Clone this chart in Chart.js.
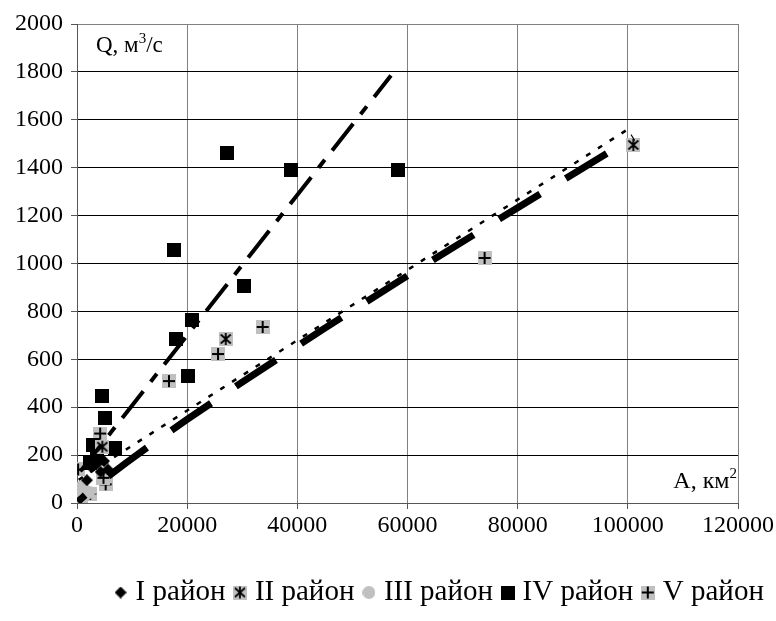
<!DOCTYPE html>
<html>
<head>
<meta charset="utf-8">
<script src="https://cdn.jsdelivr.net/npm/chart.js@4.4.1/dist/chart.umd.min.js"></script>
<style>
  html, body { margin: 0; padding: 0; background: #fff; }
  #wrap { width: 776px; height: 621px; }
</style>
</head>
<body>
<div id="wrap"><canvas id="flowChart" width="776" height="621"></canvas></div>
<script>
// catchment area, km2, and discharge, m3/s, by district
const areaI = [1800, 2600, 3100, 3700, 4300, 4900, 5600];
const flowI = [95, 150, 190, 165, 130, 175, 140];

const areaII = [101000, 27000, 4600];
const flowII = [1495, 685, 235];

const areaIII = [150, 400, 700, 900, 1100, 1500, 2200];
const flowIII = [8, 15, 35, 70, 25, 50, 45];

const areaIV = [27200, 38800, 58200, 17600, 30300, 20800, 17900, 20200, 4500, 5100, 2900, 6900, 3600, 2300];
const flowIV = [1460, 1390, 1390, 1055, 905, 765, 685, 530, 445, 355, 242, 230, 200, 165];

const areaV = [74000, 33700, 25600, 16700, 4200, 200, 5200, 2400, 700, 4800];
const flowV = [1023, 735, 622, 509, 290, 140, 78, 38, 15, 105];

// trend lines
const trendSteepArea = [600, 57000];
const trendSteepFlow = [132, 1785];

const trendPowerArea = [150, 400, 1000, 2000, 3000, 4500, 6000, 9000, 13000, 20000, 30000, 45000, 60000, 80000, 101000];
const trendPowerFlow = [4, 10, 23, 43, 62, 90, 117, 169, 236, 349, 505, 730, 949, 1233, 1527];

const trendLinearArea = [300, 101000];
const trendLinearFlow = [97, 1575];

const legendNames = ['I район', 'II район', 'III район', 'IV район', 'V район'];
const xTicks = { min: 0, max: 120000, step: 20000 };
const yTicks = { min: 0, max: 2000, step: 200 };

const FONT = 'Liberation Serif';
const GREY = '#c0c0c0';

function pts(xs, ys) {
    return xs.map((x, i) => ({ x: x, y: ys[i] }));
}

function marker(size, paint) {
    const c = document.createElement('canvas');
    c.width = size;
    c.height = size;
    paint(c.getContext('2d'), size);
    return c;
}

const mDiamond = marker(12, (g, s) => {
    g.fillStyle = '#000';
    g.beginPath();
    g.moveTo(s / 2, 0);
    g.lineTo(s, s / 2);
    g.lineTo(s / 2, s);
    g.lineTo(0, s / 2);
    g.closePath();
    g.fill();
});

const mStar = marker(14, (g, s) => {
    g.fillStyle = GREY;
    g.fillRect(0, 0, s, s);
    g.strokeStyle = '#000';
    g.lineWidth = 1.8;
    g.beginPath();
    g.moveTo(s / 2, 1); g.lineTo(s / 2, s - 1);
    g.moveTo(2, 2.5); g.lineTo(s - 2, s - 2.5);
    g.moveTo(s - 2, 2.5); g.lineTo(2, s - 2.5);
    g.stroke();
});

const mCircle = marker(13, (g, s) => {
    g.fillStyle = GREY;
    g.beginPath();
    g.arc(s / 2, s / 2, s / 2, 0, Math.PI * 2);
    g.fill();
});

const mSquare = marker(14, (g, s) => {
    g.fillStyle = '#000';
    g.fillRect(0, 0, s, s);
});

const mPlus = marker(14, (g, s) => {
    g.fillStyle = GREY;
    g.fillRect(0, 0, s, s);
    g.fillStyle = '#000';
    g.fillRect(s / 2 - 1, 1, 2, s - 2);
    g.fillRect(1, s / 2 - 1, s - 2, 2);
});

function pointSet(label, xs, ys, style) {
    return {
        label: label,
        data: pts(xs, ys),
        pointStyle: style,
        pointRadius: 7,
        backgroundColor: '#000',
        borderColor: '#000',
        showLine: false
    };
}

function trendSet(xs, ys, width, dash, offset) {
    return {
        label: 'trend',
        data: pts(xs, ys),
        showLine: true,
        pointRadius: 0,
        borderColor: '#000',
        borderWidth: width,
        borderDash: dash,
        borderDashOffset: offset || 0,
        borderCapStyle: 'butt',
        order: -1
    };
}

// axis captions drawn inside the plot, with superscripts
const axisCaptions = {
    id: 'axisCaptions',
    afterDraw(chart) {
        const ctx = chart.ctx;
        const area = chart.chartArea;
        ctx.save();
        ctx.fillStyle = '#000';
        ctx.textBaseline = 'alphabetic';

        function piece(text, x, y, size) {
            ctx.font = size + 'px "' + FONT + '"';
            ctx.fillText(text, x, y);
            return x + ctx.measureText(text).width;
        }
        function widthOf(text, size) {
            ctx.font = size + 'px "' + FONT + '"';
            return ctx.measureText(text).width;
        }

        // Q, m3/s at top left
        let x = area.left + 19;
        let y = area.top + 28;
        x = piece('Q, м', x, y, 23);
        x = piece('3', x, y - 9, 15);
        piece('/с', x, y, 23);

        // A, km2 at bottom right
        const w = widthOf('A, км', 24) + widthOf('2', 15);
        x = area.right - 1 - w;
        y = area.bottom - 15;
        x = piece('A, км', x, y, 24);
        piece('2', x, y - 10, 15);
        ctx.restore();
    }
};

// legend row sits to the right of the page centre
const legendShift = {
    id: 'legendShift',
    afterLayout(chart) {
        chart.legend.left += 73;
        chart.legend.right += 73;
    }
};

const chart = new Chart(document.getElementById('flowChart'), {
    type: 'scatter',
    data: {
        datasets: [
            pointSet(legendNames[0], areaI, flowI, mDiamond),
            pointSet(legendNames[1], areaII, flowII, mStar),
            pointSet(legendNames[2], areaIII, flowIII, mCircle),
            pointSet(legendNames[3], areaIV, flowIV, mSquare),
            pointSet(legendNames[4], areaV, flowV, mPlus),
            trendSet(trendSteepArea, trendSteepFlow, 4, [34, 12, 10, 12]),
            trendSet(trendPowerArea, trendPowerFlow, 7, [48, 30], 38),
            trendSet(trendLinearArea, trendLinearFlow, 2.5, [5, 9])
        ]
    },
    options: {
        responsive: false,
        animation: false,
        devicePixelRatio: 1,
        layout: { padding: { top: 24, right: 38, bottom: 4, left: 0 } },
        plugins: {
            tooltip: { enabled: false },
            legend: {
                position: 'bottom',
                labels: {
                    usePointStyle: true,
                    pointStyleWidth: 1,
                    padding: 14,
                    color: '#000',
                    font: { family: FONT, size: 29 },
                    filter: item => item.text !== 'trend'
                }
            }
        },
        scales: {
            x: {
                type: 'linear',
                min: xTicks.min,
                max: xTicks.max,
                afterFit: s => { s.height = 61; },
                ticks: {
                    stepSize: xTicks.step,
                    padding: 2,
                    color: '#000',
                    font: { family: FONT, size: 24 },
                    maxRotation: 0,
                    callback: v => String(v)
                },
                grid: { color: '#808080', lineWidth: 1, tickLength: 6, tickColor: '#555' },
                border: { display: true, color: '#555', width: 1 }
            },
            y: {
                type: 'linear',
                min: yTicks.min,
                max: yTicks.max,
                afterFit: s => { s.width = 77; },
                ticks: {
                    stepSize: yTicks.step,
                    padding: 8,
                    color: '#000',
                    font: { family: FONT, size: 24 },
                    callback: v => String(v)
                },
                grid: {
                    color: c => (c.tick && c.tick.value === yTicks.max) ? '#808080' : '#000',
                    lineWidth: 1,
                    tickLength: 6,
                    tickColor: '#555'
                },
                border: { display: true, color: '#555', width: 1 }
            }
        }
    },
    plugins: [axisCaptions, legendShift]
});
</script>
</body>
</html>
